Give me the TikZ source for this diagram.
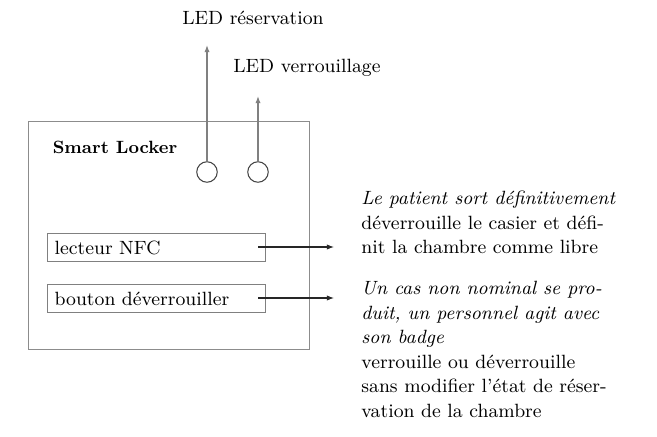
\documentclass[tikz,border=0pt]{standalone}
\usetikzlibrary{arrows.meta}
\begin{document}
\begin{tikzpicture}[x=0.49pt,y=-0.49pt,
  every node/.style={font=\fontsize{9.4}{12}\selectfont},
  frame/.style={draw=black!45, line width=0.5pt},
  itembox/.style={draw=black!50, line width=0.5pt, anchor=north west, minimum height=13.7pt, text width=100pt, inner xsep=3.5pt, inner ysep=0pt, align=left},
  led/.style={draw=black!75, circle, minimum size=20.5*0.49pt, inner sep=0pt, line width=0.5pt},
  ledarrow/.style={draw=black!50, line width=0.6pt, -{Latex[length=3.5pt,width=2.6pt]}},
  outarrow/.style={draw=black!85, line width=0.5pt, -{Latex[length=3.5pt,width=2.6pt]}},
  desc/.style={anchor=north west, inner sep=0pt, align=left}
]
\useasboundingbox (0,0) rectangle (657,437);
\node[frame, draw, anchor=north west, minimum width=281*0.49pt, minimum height=228*0.49pt, inner sep=0pt] (locker) at (28,121) {};
\node[font=\fontsize{8.7}{10}\selectfont\bfseries] (title) at (115,147) {Smart Locker};
\node[led] (l1) at (207,172) {};
\node[led] (l2) at (258,172) {};
\coordinate (t1) at (207,45);
\coordinate (t2) at (258,96);
\node (res) at (253,18) {LED réservation};
\node (ver) at (307,68) {LED verrouillage};
\draw[ledarrow] (l1.north) -- (t1);
\draw[ledarrow] (l2.north) -- (t2);
\node[itembox] (nfc) at (47,233) {lecteur NFC};
\node[itembox] (btn) at (47,284) {bouton déverrouiller};
\coordinate (s1) at (258,247);
\coordinate (s2) at (258,298);
\coordinate (e1) at (334,247);
\coordinate (e2) at (334,298);
\draw[outarrow] (s1) -- (e1);
\draw[outarrow] (s2) -- (e2);
\node[desc] (d1) at (361,191) {\textit{Le patient sort définitivement}\\déverrouille le casier et défi-\\nit la chambre comme libre};
\node[desc] (d2) at (361,281) {\textit{Un cas non nominal se pro-}\\\textit{duit, un personnel agit avec}\\\textit{son badge}\\verrouille ou déverrouille\\sans modifier l'état de réser-\\vation de la chambre};
\end{tikzpicture}
\end{document}
